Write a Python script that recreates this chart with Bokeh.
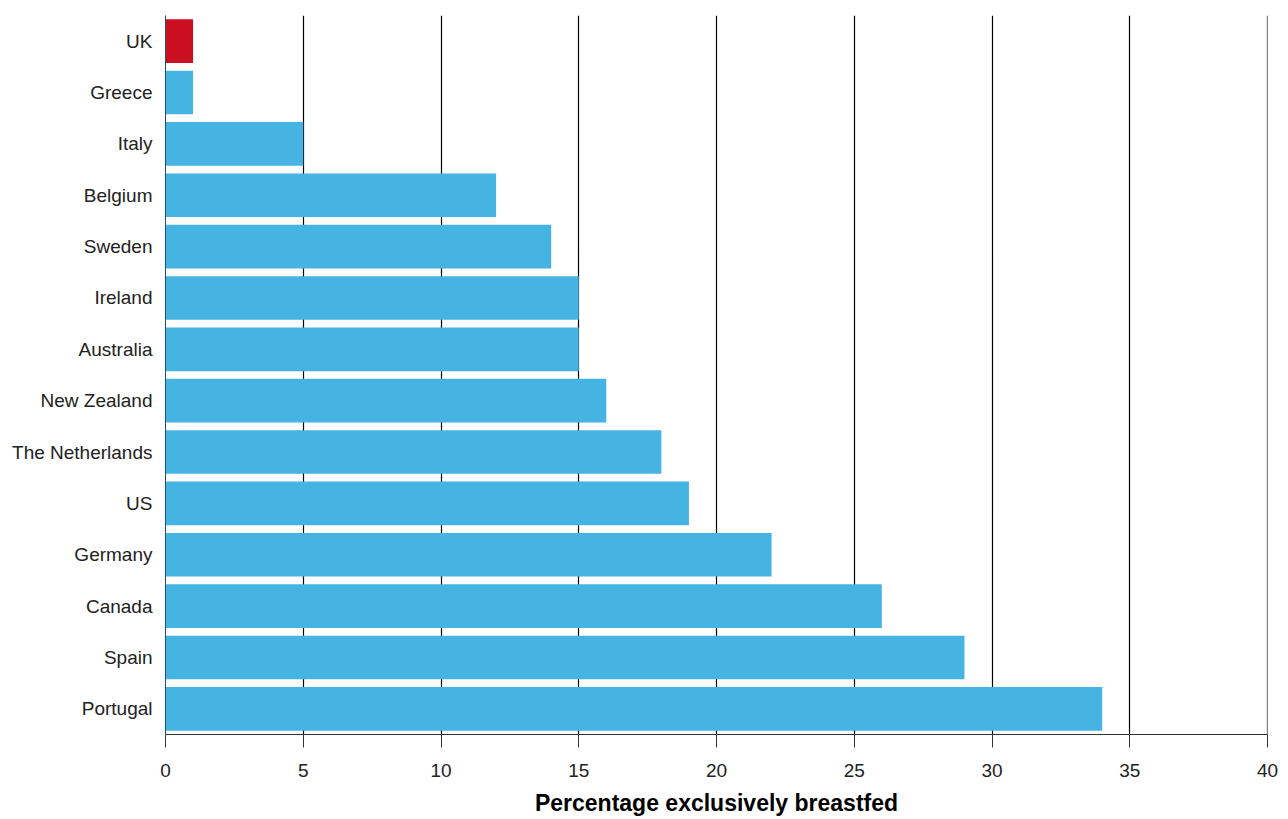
from bokeh.plotting import figure
from bokeh.models import ColumnDataSource, FixedTicker, Span
from bokeh.embed import file_html
from bokeh.resources import INLINE

countries = ["UK", "Greece", "Italy", "Belgium", "Sweden", "Ireland", "Australia",
             "New Zealand", "The Netherlands", "US", "Germany", "Canada", "Spain", "Portugal"]
values = [1, 1, 5, 12, 14, 15, 15, 16, 18, 19, 22, 26, 29, 34]
colors = ["#CC0E21"] + ["#46B4E3"] * 13
x_ticks = [0, 5, 10, 15, 20, 25, 30, 35, 40]

src = ColumnDataSource(dict(country=countries, value=values, color=colors))

p = figure(y_range=list(reversed(countries)), x_range=(0, 40),
           width=1281, height=818, output_backend="svg", toolbar_location=None,
           min_border_left=165, min_border_top=15, min_border_right=14, min_border_bottom=60)
p.y_range.range_padding = 0
p.hbar(y="country", right="value", left=0, height=0.85, color="color", source=src, line_color=None)

p.outline_line_color = None
p.ygrid.grid_line_color = None
p.xgrid.grid_line_color = "#000000"
p.xgrid.grid_line_alpha = 1
p.xgrid.grid_line_width = 1.2
p.xgrid.ticker = FixedTicker(ticks=x_ticks)
p.add_layout(Span(location=x_ticks[-1], dimension="height", line_color="#000000",
                  line_width=1.2, level="underlay"))

p.xaxis.ticker = FixedTicker(ticks=x_ticks)
p.xaxis.axis_label = "Percentage exclusively breastfed"
p.xaxis.axis_label_text_font = "Liberation Sans"
p.xaxis.axis_label_text_font_style = "bold"
p.xaxis.axis_label_text_font_size = "23px"
p.xaxis.axis_label_text_color = "#000000"
p.xaxis.axis_label_standoff = 10
p.xaxis.major_label_text_font = "Liberation Sans"
p.xaxis.major_label_text_font_size = "19px"
p.xaxis.major_label_text_color = "#222222"
p.xaxis.major_label_standoff = 16
p.xaxis.major_tick_out = 13
p.xaxis.major_tick_in = 0
p.xaxis.minor_tick_line_color = None
p.xaxis.axis_line_color = "#333333"
p.xaxis.major_tick_line_color = "#333333"
p.xaxis.axis_line_width = 1.2

p.yaxis.major_label_text_font = "Liberation Sans"
p.yaxis.major_label_text_font_size = "19px"
p.yaxis.major_label_text_color = "#222222"
p.yaxis.major_label_standoff = 7
p.yaxis.major_tick_line_color = None
p.yaxis.minor_tick_line_color = None
p.yaxis.axis_line_color = "#1f4e79"

open("out.html", "w").write(file_html(p, INLINE))
